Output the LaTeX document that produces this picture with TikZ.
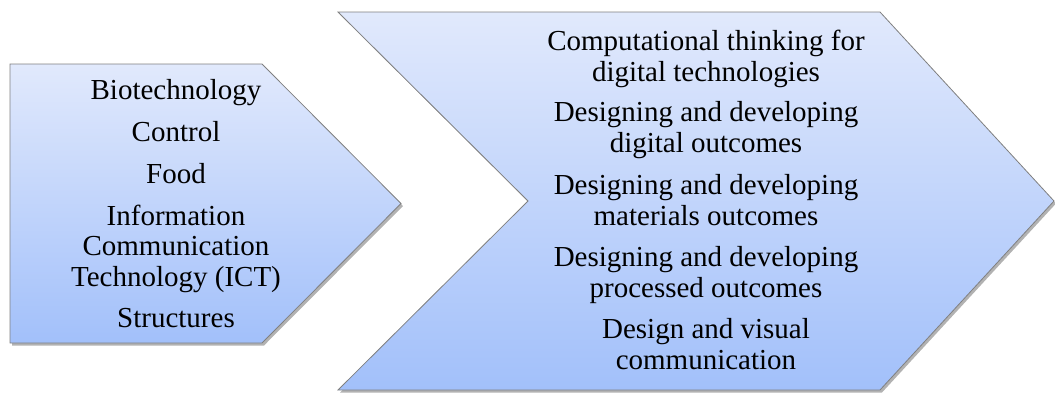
\documentclass[tikz,border=0pt]{standalone}
\usepackage{fontspec}
\setmainfont{Liberation Serif}
\usetikzlibrary{shadows}
\definecolor{topc}{RGB}{225,233,252}
\definecolor{botc}{RGB}{162,192,250}
\begin{document}
\begin{tikzpicture}[x=1pt,y=-1pt,
  arrowshape/.style={draw=black!50, line width=0.8pt, top color=topc, bottom color=botc,
    drop shadow={shadow xshift=2pt,shadow yshift=-2.5pt,fill=black,opacity=0.3}},
  lbl/.style={font=\fontsize{29}{30.3}\selectfont, align=center, anchor=base, inner sep=0pt}]
\useasboundingbox (0,0) rectangle (1055,392);
\path[arrowshape] (10,64) -- (262,64) -- (401,203.5) -- (262,343) -- (10,343) -- cycle;
\path[arrowshape] (338,12) -- (880,12) -- (1054,201) -- (880,390) -- (338,390) -- (528,201) -- cycle;
% left labels (anchored at the baseline of the last line)
\node[lbl] (bio) at (176,99) {Biotechnology};
\node[lbl] (ctl) at (176,141) {Control};
\node[lbl] (food) at (176,183) {Food};
\node[lbl] (ict) at (176,286) {Information\\Communication\\Technology (ICT)};
\node[lbl] (str) at (176,327) {Structures};
% right labels
\node[lbl] (ct) at (706,81) {Computational thinking for\\digital technologies};
\node[lbl] (dd) at (706,152) {Designing and developing\\digital outcomes};
\node[lbl] (dm) at (706,225) {Designing and developing\\materials outcomes};
\node[lbl] (dp) at (706,297) {Designing and developing\\processed outcomes};
\node[lbl] (dv) at (706,369) {Design and visual\\communication};
\end{tikzpicture}
\end{document}
